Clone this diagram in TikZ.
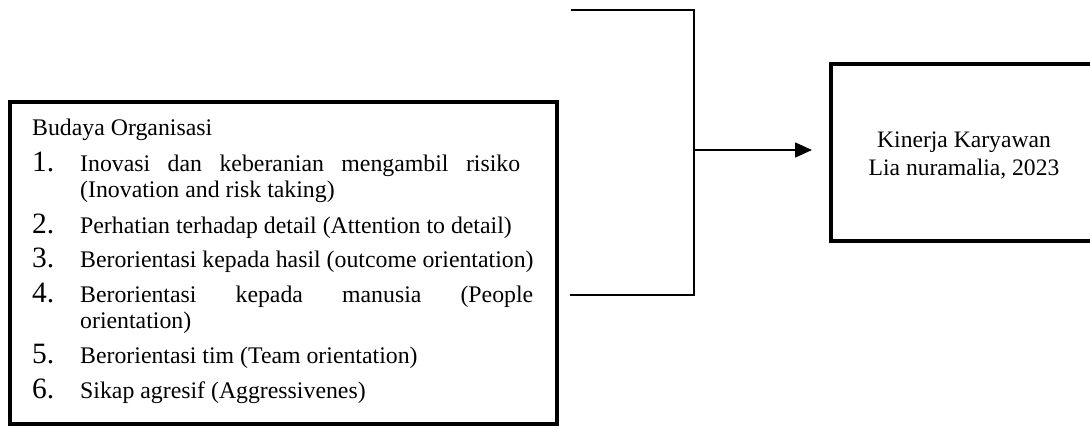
\documentclass[tikz,border=0pt]{standalone}
\usepackage{fontspec}
\setmainfont{Liberation Serif}
\usetikzlibrary{arrows.meta}
\tikzset{
  frame/.style={draw, line width=4.5bp, inner sep=0pt, outer sep=0pt},
  txt/.style={anchor=base west, inner sep=0pt, font=\fontsize{23.8bp}{27bp}\selectfont},
  ctxt/.style={align=center, inner sep=0pt, font=\fontsize{23.6bp}{28bp}\selectfont},
  num/.style={anchor=base west, inner sep=0pt, font=\fontsize{29.5bp}{30bp}\selectfont},
  conn/.style={line width=1.6bp},
}
\begin{document}
\begin{tikzpicture}[x=1bp,y=-1bp]
\path[use as bounding box] (0,0) rectangle (1090,427);
\clip (0,0) rectangle (1090,427);
% boxes
\node[frame, minimum width=547bp, minimum height=322bp] (lb) at (283.5,263) {};
\node[frame, minimum width=266bp, minimum height=177bp] (rb) at (964,152.5) {};
% left box text
\node[txt] (t0) at (32,135) {Budaya Organisasi};
\node[num] (n1) at (32,171) {1.};
\node[txt] (i1a) at (80,171) {\makebox[440bp][s]{Inovasi dan keberanian mengambil risiko}};
\node[txt] (i1b) at (80,197) {(Inovation and risk taking)};
\node[num] (n2) at (32,233) {2.};
\node[txt] (i2) at (80,233) {Perhatian terhadap detail (Attention to detail)};
\node[num] (n3) at (32,267) {3.};
\node[txt] (i3) at (80,267) {Berorientasi kepada hasil (outcome orientation)};
\node[num] (n4) at (32,302) {4.};
\node[txt] (i4a) at (80,302) {\makebox[453bp][s]{Berorientasi kepada manusia (People}};
\node[txt] (i4b) at (80,328) {orientation)};
\node[num] (n5) at (32,363) {5.};
\node[txt] (i5) at (80,363) {Berorientasi tim (Team orientation)};
\node[num] (n6) at (32,398) {6.};
\node[txt] (i6) at (80,398) {Sikap agresif (Aggressivenes)};
% right box text
\node[ctxt] (rt) at (964,155.5) {Kinerja Karyawan\\Lia nuramalia, 2023};
% connectors
\coordinate (topfree) at (571,10);
\coordinate (tr) at (694,10);
\coordinate (br) at (694,295);
\coordinate (botfree) at (570,295);
\coordinate (junc) at (694,150);
\draw[conn] (topfree) -- (tr) -- (br) -- (botfree);
\draw[conn, -{Triangle[length=17bp,width=15bp]}, shorten >=19bp] (junc) -- (junc -| rb.west);
\end{tikzpicture}
\end{document}
